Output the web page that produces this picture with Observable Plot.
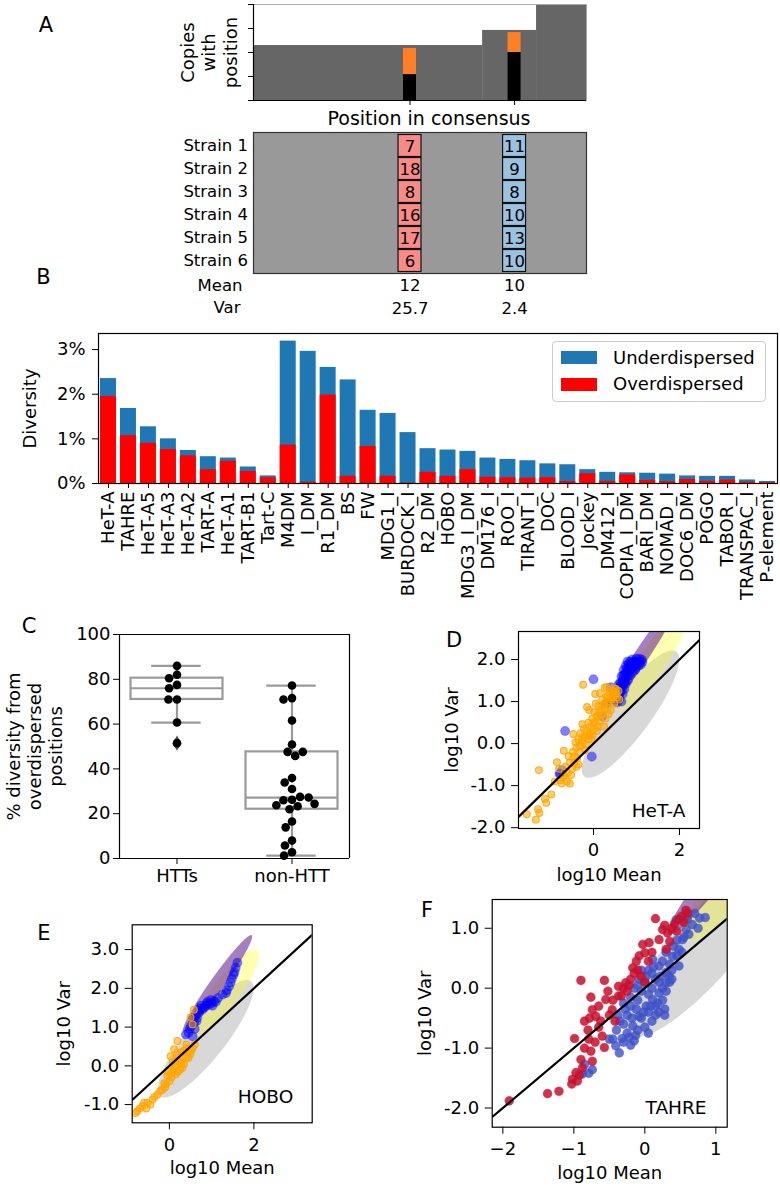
<!DOCTYPE html>
<html><head><meta charset="utf-8">
<script src="https://cdn.jsdelivr.net/npm/d3@7"></script>
<script src="https://cdn.jsdelivr.net/npm/@observablehq/plot@0.6"></script>
<style>
body{margin:0;background:#fff;}
#fig{position:relative;width:780px;height:1187px;font-family:"DejaVu Sans",sans-serif;color:#000;overflow:hidden;background:#fff;}
.lab{position:absolute;transform:translate(-50%,-50%);font-size:21px;line-height:1;}
.leg{position:absolute;left:552px;top:341px;width:212px;height:59px;border:1px solid #ccc;border-radius:4px;background:rgba(255,255,255,0.85);font-size:18px;}
.leg .sw{position:absolute;left:8px;width:36px;height:13px;}
.leg .tx{position:absolute;left:60px;line-height:1;}
</style></head><body><div id="fig"></div>
<script>
// ---------- Panel A ----------
const coverageStart = [0, 68.8, 85];
const coverageEnd = [68.8, 85, 100];
const coverageLevel = [2.29, 2.92, 4];
const sitePosition = [47.0, 78.4];
const siteBlack = [1.08, 2.0];
const siteTotal = [2.17, 2.83];
const strains = ["Strain 1","Strain 2","Strain 3","Strain 4","Strain 5","Strain 6"];
const site1Counts = [7,18,8,16,17,6];
const site2Counts = [11,9,8,10,13,10];
const siteMeanLabel = ["12","10"];
const siteVarLabel = ["25.7","2.4"];

// ---------- Panel B ----------
const teNames = ["HeT-A","TAHRE","HeT-A5","HeT-A3","HeT-A2","TART-A","HeT-A1","TART-B1","Tart-C","M4DM","I_DM","R1_DM","BS","FW","MDG1_I","BURDOCK_I","R2_DM","HOBO","MDG3_I_DM","DM176_I","ROO_I","TIRANT_I","DOC","BLOOD_I","Jockey","DM412_I","COPIA_I_DM","BARI_DM","NOMAD_I","DOC6_DM","POGO","TABOR_I","TRANSPAC_I","P-element"];
const totalDiversity = [2.35,1.68,1.27,1.00,0.74,0.60,0.57,0.37,0.17,3.19,2.96,2.60,2.32,1.64,1.57,1.14,0.78,0.75,0.72,0.57,0.54,0.51,0.44,0.42,0.31,0.25,0.24,0.23,0.21,0.17,0.16,0.16,0.08,0.045];
const overDiversity = [1.95,1.07,0.90,0.76,0.62,0.31,0.50,0.27,0.13,0.86,0.03,1.98,0.16,0.83,0.16,0.01,0.25,0.16,0.31,0.14,0.13,0.12,0.13,0.045,0.22,0.05,0.19,0.07,0.04,0.09,0.05,0.075,0.03,0.02];
const legendLabels = ["Underdispersed","Overdispersed"];

// ---------- Panel C ----------
const cGroups = ["HTTs","non-HTT"];
const httPercent = [86, 82, 80.5, 77.5, 76, 71, 71, 60.7, 51.5];
const nonHttPercent = [77.2, 71.6, 71, 61.6, 50.9, 47.6, 45.8, 47.6, 35.9, 33.9, 31, 26.2, 26, 27.5, 27.2, 23.3, 22, 23.8, 24.4, 16.5, 13.9, 8, 5.8, 2.8, 1.3];

// ---------- Ellipses (model regions, shared by D/E/F) ----------
const ellipseFill = ["#a9a9a9","#ffff00","#4b0082"];
const ellipseCx = [0.86, 1.33, 1.14];
const ellipseCy = [0.70, 1.90, 2.13];
const ellipseA = [1.83, 1.33, 1.48];
const ellipseB = [0.48, 0.33, 0.17];
const ellipseAngle = [54.5, 55.7, 57];

// ---------- Panel D (HeT-A) ----------
const hetaBlue = [[0.00,1.53],[-0.66,0.30],[-0.04,-0.31],[-0.77,-0.71],[-0.73,-0.63],[-0.79,-0.72],[0.40,1.34],[0.30,0.95],[0.20,0.65],
 [0.55,0.98],[0.60,1.05],[0.65,1.00],[0.58,1.15],[0.62,1.20],[0.68,1.18],[0.55,1.25],[0.60,1.32],[0.66,1.38],[0.72,1.30],[0.75,1.42],[0.62,1.45],[0.68,1.52],[0.74,1.55],[0.80,1.50],[0.65,1.60],[0.72,1.65],[0.78,1.68],[0.85,1.62],[0.90,1.70],[0.70,1.75],[0.78,1.80],[0.85,1.78],[0.92,1.82],[0.98,1.80],[0.82,1.90],[0.88,1.92],[0.95,1.95],[1.02,1.92],[1.08,1.95],[1.12,2.00],[0.90,2.00],[1.00,2.02],[0.75,1.85],[0.82,1.72],[0.95,1.88],[1.05,1.85],[0.70,1.45],[0.58,1.40],[0.52,1.10],
 [0.50,1.05],[0.53,1.18],[0.57,1.28],[0.63,1.35],[0.69,1.62],[0.76,1.72],[0.83,1.83],[0.93,1.90],[1.00,1.95],[1.06,2.02],[0.88,1.85],[0.80,1.62],[0.73,1.48],[0.66,1.28],[0.97,1.75],[1.10,1.88],[0.85,1.95],[0.60,1.18],[0.79,1.95],[1.14,1.94]];
const hetaOrange = [[-1.55,-1.68],[-1.34,-1.81],[-1.29,-1.56],[-1.26,-1.65],[-1.13,-1.31],[-1.10,-1.41],[-0.98,-1.21],[-1.27,-0.63],[-0.85,-0.44],[-0.77,-0.87],[-0.70,-0.80],[-0.74,-0.95],[-0.69,-0.17],[-0.47,0.23],[-0.42,0.03],[-0.26,0.46],[-0.15,0.87],[-0.24,1.40],[0.26,1.33],[0.47,1.32],[0.04,1.18],[-0.65,-0.55],[-0.60,-0.70],[-0.55,-0.45],[-0.58,-0.30],[-0.50,-0.60],[-0.48,-0.20],[-0.45,-0.45],[-0.40,-0.10],[-0.38,-0.35],[-0.35,0.10],[-0.32,-0.20],[-0.30,0.25],[-0.28,-0.05],[-0.25,0.05],[-0.22,0.35],[-0.20,0.15],[-0.18,-0.02],[-0.15,0.30],[-0.12,0.50],[-0.10,0.20],[-0.08,0.40],[-0.05,0.10],[-0.03,0.60],[0.00,0.35],[0.02,0.75],[0.05,0.50],[0.08,0.30],[0.10,0.65],[0.12,0.90],[0.15,0.55],[0.18,0.80],[0.20,1.05],[0.22,0.70],[0.25,0.95],[0.28,0.60],[0.30,1.10],[0.32,0.85],[0.35,1.00],[0.38,1.20],[0.40,0.80],[0.42,1.05],[0.45,1.25],[0.48,0.95],[0.50,1.15],[0.52,1.30],[0.55,1.10],[0.35,0.70],[0.10,0.40],[-0.02,0.20],[-0.35,-0.50],[-0.62,-0.90],[-0.90,-0.90],[-0.55,-0.95],[-0.80,-0.60],[0.15,1.20],[-0.10,0.80],[0.30,1.35],[0.25,0.40],[0.05,0.95],
 [-0.45,-0.30],[-0.40,-0.55],[-0.33,-0.05],[-0.27,0.15],[-0.20,-0.15],[-0.13,0.10],[-0.07,0.25],[0.00,0.50],[0.07,0.65],[0.13,0.75],[0.20,0.90],[0.27,0.80],[0.33,1.15],[0.40,1.10],[0.46,1.10],[0.53,1.20],[0.58,1.25],[0.60,1.05],[-0.52,-0.75],[-0.68,-0.75]];

// ---------- Panel E (HOBO) ----------
const hoboBlue = [[1.61,2.66],[1.57,2.53],[1.54,2.42],[1.52,2.35],[1.48,2.25],[1.45,2.15],[1.41,2.05],[1.36,1.95],[1.34,1.88],[1.26,1.84],[1.15,1.75],[1.06,1.67],[1.00,1.62],[0.94,1.58],[0.90,1.65],[0.86,1.54],[0.82,1.50],[0.78,1.45],[0.75,1.55],[0.70,1.37],[0.72,1.48],[0.66,1.24],[0.62,1.30],[0.58,1.11],[0.55,1.20],[0.51,1.02],[0.48,0.95],[0.39,0.81],[0.45,0.85],[0.55,0.76],[0.60,0.95],[1.02,1.55],[0.98,1.70],[1.10,1.65],[0.88,1.60],[0.68,1.42],[0.64,1.15]];
const hoboOrange = [[0.58,1.45],[0.55,1.07],[0.50,1.25],[0.19,0.64],[0.11,0.43],[0.03,0.25],[0.15,0.12],[0.55,0.46],[0.39,0.20],[0.45,0.35],[0.31,-0.05],[0.25,0.10],[0.35,0.40],[0.20,0.30],[0.15,-0.22],[0.10,-0.10],[0.05,-0.30],[0.00,-0.40],[-0.08,-0.48],[-0.05,-0.25],[0.20,-0.15],[0.28,0.05],[0.12,0.00],[-0.16,-0.61],[-0.10,-0.55],[-0.28,-0.74],[-0.22,-0.65],[-0.40,-0.87],[-0.35,-0.80],[-0.52,-0.95],[-0.45,-1.00],[-0.64,-1.04],[-0.60,-0.95],[-0.76,-1.17],[-0.70,-1.10],[-0.80,-1.22],[-0.55,-1.10],[0.08,0.10],[0.40,0.55],[0.30,0.25],[-0.02,-0.15],[0.18,0.20],[0.45,0.20],[0.50,0.30],[0.35,0.05],[0.25,-0.10],[0.05,-0.20],[-0.12,-0.45],[0.60,0.55],[0.52,0.40],[0.42,0.45],[0.28,0.35]];

// ---------- Panel F (TAHRE) ----------
const tahreBlue = [[-0.85,-1.27],[-0.88,-1.43],[-0.79,-1.42],[-0.74,-1.36],[-0.36,-1.08],[-0.41,-0.96],[-0.50,-0.85],[-0.32,-0.84],[-0.22,-0.82],[-0.13,-0.79],[-0.17,-0.63],[-0.08,-0.47],[0.02,-0.30],[0.11,-0.19],[0.20,-0.08],[0.30,0.09],[0.34,0.20],[0.30,0.26],[0.20,0.37],[0.11,0.48],[0.39,0.53],[0.48,0.65],[0.53,0.81],[0.58,0.98],[0.67,1.06],[0.77,1.17],[0.70,1.25],[0.44,1.14],[0.48,0.37],[-0.30,-0.60],[-0.25,-0.45],[-0.20,-0.30],[-0.10,-0.20],[-0.05,-0.05],[0.00,0.10],[0.05,-0.10],[0.10,0.00],[0.15,0.15],[0.25,-0.20],[0.20,-0.40],[0.10,-0.55],[0.00,-0.65],[-0.10,-0.70],[-0.40,-0.70],[-0.30,-0.90],[-0.20,-0.95],[-0.15,0.00],[-0.05,0.30],[0.05,0.30],[0.25,0.45],[0.35,0.40],[0.40,0.70],[0.30,0.60],[0.15,-0.30],[-0.25,-0.75],[0.60,1.15],[0.85,1.18],[0.75,1.00],[0.55,0.85],[0.45,0.80],[0.05,-0.40],[-0.05,-0.50],[0.15,-0.45],[0.25,0.00],[0.20,0.10],[-0.10,0.05],[0.10,0.25],[0.28,-0.35],
 [-0.35,-0.55],[-0.28,-0.35],[-0.18,-0.50],[-0.12,-0.35],[-0.02,-0.40],[0.08,-0.30],[0.18,-0.25],[0.30,-0.05],[0.35,0.10],[0.22,0.20],[0.12,0.35],[0.02,0.20],[-0.08,0.15],[-0.20,-0.15],[-0.30,-0.25],[-0.38,-0.45],[0.38,0.30],[0.45,0.55],[0.52,0.60],[0.62,0.90],[0.28,-0.45],[-0.45,-0.85],[-0.15,-0.88],[0.05,-0.75],[0.38,0.15]];
const tahreRed = [[-1.91,-1.88],[-1.37,-1.76],[-1.21,-1.72],[-1.03,-1.60],[-1.02,-1.52],[-0.95,-1.55],[-0.97,-1.41],[-0.92,-1.45],[-0.88,-1.33],[-0.90,-1.19],[-0.76,-1.05],[-0.74,-1.22],[-0.99,-0.84],[-0.79,-0.85],[-0.80,-0.70],[-0.85,-0.55],[-0.78,-0.50],[-0.90,0.13],[-0.57,0.13],[-0.76,-0.15],[-0.74,-0.36],[-0.69,-0.47],[-0.55,-0.19],[-0.46,-0.36],[-0.60,-0.80],[-0.57,-0.99],[-0.62,-0.55],[-0.65,-0.30],[-0.50,-0.45],[-0.42,-0.55],[-0.37,-0.13],[-0.37,0.03],[-0.27,0.09],[-0.33,-0.13],[-0.30,0.00],[-0.22,0.05],[-0.20,0.15],[-0.25,-0.05],[-0.17,0.34],[-0.12,0.45],[-0.08,0.54],[0.00,0.59],[0.06,0.76],[-0.03,0.73],[0.15,1.16],[0.20,0.81],[0.25,0.98],[0.28,1.05],[0.32,0.92],[0.38,1.00],[0.42,1.08],[0.48,1.15],[0.52,1.20],[0.58,1.30],[0.55,1.10],[0.35,0.78],[0.30,0.65],[0.10,0.60],[0.05,0.45],[-0.10,0.30],[-0.15,0.25],[-0.05,0.20],[0.00,0.10],[0.60,1.25],[0.45,0.95],[-0.45,-0.20],[-0.52,-0.05],[-0.65,-0.65],[-0.85,-1.00],[-0.70,-0.90]];

// ================= drawing =================
const fig = document.getElementById("fig");
function place(left, top, fs) {
  return `position:absolute;left:${left}px;top:${top}px;font-family:'DejaVu Sans',sans-serif;font-size:${fs||18}px;background:transparent;overflow:visible;max-width:none;color:#000;`;
}
const T = d => d;
const MID = {textAnchor:"middle", lineAnchor:"middle"};

// ---- A: coverage
const coverage = coverageStart.map((s,i)=>({start:s,end:coverageEnd[i],level:coverageLevel[i]}));
const sites = sitePosition.map((p,i)=>({pos:p,black:siteBlack[i],total:siteTotal[i]}));
fig.appendChild(Plot.plot({
  width: 600, height: 115, marginLeft: 253, marginRight: 14, marginTop: 4, marginBottom: 15,
  style: place(0,0),
  x: {domain:[0,100], axis:null},
  y: {domain:[0,4], axis:null},
  marks: [
    Plot.rectY(coverage, {x1:"start", x2:"end", y1:0, y2:"level", fill:"#666"}),
    Plot.rectY(sites, {x1:d=>d.pos-1.95, x2:d=>d.pos+1.95, y1:0, y2:"black", fill:"#000"}),
    Plot.rectY(sites, {x1:d=>d.pos-1.95, x2:d=>d.pos+1.95, y1:"black", y2:"total", fill:"#ff7f27"}),
    Plot.frame({stroke:"#aaa"}),
    Plot.ruleX([0], {stroke:"#000", strokeWidth:1.2}),
    Plot.ruleY([0], {stroke:"#000", strokeWidth:1.2}),
    Plot.axisY({ticks:[0,1,2,3,4], tickFormat:()=>"", tickSize:5, label:null}),
    Plot.axisX({ticks:sitePosition, tickFormat:()=>"", tickSize:5, label:null}),
    Plot.text(["Copies\nwith\nposition"], {text:T, frameAnchor:"left", dx:-45, rotate:-90, lineHeight:1.2, fontSize:18, ...MID})
  ]
}));

// ---- A: strain grid
const cells = [];
strains.forEach((s,i)=>{
  cells.push({site:0, pos:sitePosition[0], strain:s, n:site1Counts[i]});
  cells.push({site:1, pos:sitePosition[1], strain:s, n:site2Counts[i]});
});
const siteSummary = sitePosition.map((p,i)=>({pos:p, mean:siteMeanLabel[i], v:siteVarLabel[i]}));
fig.appendChild(Plot.plot({
  width: 600, height: 220, marginLeft: 253, marginRight: 14, marginTop: 22, marginBottom: 57,
  style: place(0,110,16.5),
  x: {domain:[0,100], axis:null},
  y: {domain:strains, padding:0, tickSize:0, tickPadding:5.5, label:null},
  marks: [
    Plot.frame({fill:"#999"}),
    Plot.barX(cells.filter(d=>d.site===0), {x1:d=>d.pos-3.6, x2:d=>d.pos+3.6, y:"strain", fill:"#f88b86", stroke:"#111", strokeWidth:1.2, inset:0.5}),
    Plot.barX(cells.filter(d=>d.site===1), {x1:d=>d.pos-3.6, x2:d=>d.pos+3.6, y:"strain", fill:"#9cc2e2", stroke:"#111", strokeWidth:1.2, inset:0.5}),
    Plot.text(cells, {x:"pos", y:"strain", text:"n", fontSize:16.5, dy:1}),
    Plot.frame({stroke:"#333", strokeWidth:1.2}),
    Plot.text(["Position in consensus"], {text:T, frameAnchor:"top", dx:9, dy:-14, fontSize:19, ...MID}),
    Plot.text(siteSummary, {x:"pos", text:"mean", frameAnchor:"bottom", dy:12, fontSize:16.5, ...MID}),
    Plot.text(siteSummary, {x:"pos", text:"v", frameAnchor:"bottom", dy:35, fontSize:16.5, ...MID}),
    Plot.text(["Mean"], {text:T, frameAnchor:"bottom-left", dx:-11, dy:12, fontSize:16.5, textAnchor:"end", lineAnchor:"middle"}),
    Plot.text(["Var"], {text:T, frameAnchor:"bottom-left", dx:-13, dy:34, fontSize:16.5, textAnchor:"end", lineAnchor:"middle"})
  ]
}));

// ---- B
const bRows = teNames.map((n,i)=>({name:n,total:totalDiversity[i],over:overDiversity[i]}));
fig.appendChild(Plot.plot({
  width: 780, height: 290, marginLeft: 98, marginRight: 3, marginTop: 13, marginBottom: 127,
  style: place(0,320),
  x: {domain:teNames, paddingInner:0.2, paddingOuter:0.1, tickRotate:-90, tickSize:5, tickPadding:3, label:null},
  y: {domain:[0,3.36], ticks:[0,1,2,3], tickFormat:d=>d+"%", tickSize:6, tickPadding:7, label:null},
  marks: [
    Plot.barY(bRows, {x:"name", y:"total", fill:"#1f77b4"}),
    Plot.barY(bRows, {x:"name", y:"over", fill:"#ff0000"}),
    Plot.frame({stroke:"#000", strokeWidth:1.2}),
    Plot.text(["Diversity"], {text:T, frameAnchor:"left", dx:-68, rotate:-90, fontSize:18, ...MID})
  ]
}));

// ---- C
const cPoints = [...httPercent.map(v=>({g:"HTTs",v})), ...nonHttPercent.map(v=>({g:"non-HTT",v}))];
const cStats = cGroups.map(g=>{
  const vals = cPoints.filter(d=>d.g===g).map(d=>d.v).sort(d3.ascending);
  const q1 = d3.quantile(vals,0.25), med = d3.quantile(vals,0.5), q3 = d3.quantile(vals,0.75), iqr = q3-q1;
  const lo = d3.min(vals.filter(v=>v>=q1-1.5*iqr)), hi = d3.max(vals.filter(v=>v<=q3+1.5*iqr));
  return {g,q1,med,q3,lo,hi,out:vals.filter(v=>v<lo||v>hi)};
});
const cOut = cStats.flatMap(s=>s.out.map(v=>({g:s.g,v})));
const boxGray = "#9a9a9a";
fig.appendChild(Plot.plot({
  width: 380, height: 300, marginLeft: 119, marginRight: 31, marginTop: 34, marginBottom: 42,
  style: place(0,600),
  fx: {domain:cGroups, padding:0, axis:"bottom", tickSize:6, tickPadding:5, label:null},
  x: {domain:[0,1], axis:null},
  y: {domain:[0,100], ticks:[0,20,40,60,80,100], tickSize:6, tickPadding:3, label:null},
  marks: [
    Plot.ruleY([0,100], {stroke:"#000", strokeWidth:1.2}),
    Plot.ruleX([{g:"HTTs",x:0},{g:"non-HTT",x:1}], {fx:"g", x:"x", stroke:"#000", strokeWidth:1.2}),
    Plot.ruleX(cStats, {fx:"g", x:0.5, y1:"lo", y2:"q1", stroke:boxGray, strokeWidth:2.2}),
    Plot.ruleX(cStats, {fx:"g", x:0.5, y1:"q3", y2:"hi", stroke:boxGray, strokeWidth:2.2}),
    Plot.ruleY(cStats, {fx:"g", y:"lo", x1:0.28, x2:0.71, stroke:boxGray, strokeWidth:2.2}),
    Plot.ruleY(cStats, {fx:"g", y:"hi", x1:0.28, x2:0.71, stroke:boxGray, strokeWidth:2.2}),
    Plot.rect(cStats, {fx:"g", x1:0.1, x2:0.9, y1:"q1", y2:"q3", fill:"white", stroke:boxGray, strokeWidth:2.2}),
    Plot.ruleY(cStats, {fx:"g", y:"med", x1:0.1, x2:0.9, stroke:boxGray, strokeWidth:2.2}),
    Plot.dot(cOut, {fx:"g", x:0.5, y:"v", symbol:"diamond", r:4.6, fill:"#555"}),
    Plot.dot(cPoints, Plot.dodgeX({anchor:"middle", padding:0}, {fx:"g", y:"v", r:4.3, fill:"#000"})),
    Plot.text([{g:"HTTs", t:"% diversity from\noverdispersed\npositions"}], {fx:"g", text:"t", frameAnchor:"left", dx:-85, rotate:-90, lineHeight:1.17, fontSize:18, ...MID})
  ]
}));

// ---- D/E/F scatter panels
function ellipsePoints(i){
  const th = ellipseAngle[i]*Math.PI/180;
  return d3.range(0, 361, 3).map(a=>{
    const p = a*Math.PI/180, u = ellipseA[i]*Math.cos(p), v = ellipseB[i]*Math.sin(p);
    return {x: ellipseCx[i] + u*Math.cos(th) - v*Math.sin(th), y: ellipseCy[i] + u*Math.sin(th) + v*Math.cos(th)};
  });
}
const ellipseOpacity = [0.45, 0.3, 0.5];
function ellipseMarks(){
  return ellipseFill.map((c,i)=>Plot.line(ellipsePoints(i), {x:"x", y:"y", fill:c, fillOpacity:ellipseOpacity[i], stroke:"none", curve:"linear-closed", clip:true}));
}
function scatter(cfg){
  return Plot.plot({
    width: cfg.w, height: cfg.h, marginLeft: cfg.mL, marginRight: cfg.mR, marginTop: cfg.mT, marginBottom: cfg.mB,
    style: place(cfg.left, cfg.top),
    x: {domain:cfg.xd, ticks:cfg.xt, tickFormat:cfg.xf, tickSize:7, tickPadding:8, label:null},
    y: {domain:cfg.yd, ticks:cfg.yt, tickFormat:d=>d.toFixed(1), tickSize:7, tickPadding:6, label:null},
    marks: [
      ...ellipseMarks(),
      ...cfg.series.map(s=>Plot.dot(s.data, {x:d=>d[0], y:d=>d[1], r:s.r, fill:s.color, fillOpacity:s.fo, stroke:s.color, strokeOpacity:s.so, strokeWidth:1.1, clip:true})),
      Plot.link([0], {x1:cfg.xd[0], y1:cfg.xd[0], x2:cfg.xd[1], y2:cfg.xd[1], stroke:"#000", strokeWidth:2.2, clip:true}),
      Plot.frame({stroke:"#000", strokeWidth:1.2}),
      Plot.text([cfg.name], {text:T, frameAnchor:"bottom-right", textAnchor:"end", lineAnchor:"middle", dx:cfg.ndx, dy:cfg.ndy, fontSize:18.5}),
      Plot.text(["log10 Var"], {text:T, frameAnchor:"left", rotate:-90, dx:cfg.vdx, fontSize:18, ...MID}),
      Plot.text(["log10 Mean"], {text:T, frameAnchor:"bottom", dy:cfg.mdy, fontSize:18, ...MID})
    ]
  });
}
const plainTick = d=>String(d);
const minusTick = d=>d<0 ? "\u2212"+(-d) : String(d);

fig.appendChild(scatter({
  left:400, top:600, w:380, h:290, mL:118, mR:81, mT:31, mB:62,
  xd:[-1.744,2.465], yd:[-2.02,2.667], xt:[0,2], yt:[-2,-1,0,1,2], xf:plainTick,
  series:[{data:hetaBlue, color:"#0000ff", r:4.5, fo:0.5, so:0.3},{data:hetaOrange, color:"#ffa500", r:3.4, fo:0.55, so:0.85}],
  name:"HeT-A", ndx:-14, ndy:-17, vdx:-66, mdy:47
}));
fig.appendChild(scatter({
  left:0, top:880, w:380, h:307, mL:131.7, mR:68.3, mT:44.3, mB:64.7,
  xd:[-0.88,3.38], yd:[-1.47,3.64], xt:[0,2], yt:[-1,0,1,2,3], xf:plainTick,
  series:[{data:hoboBlue, color:"#0000ff", r:4.5, fo:0.5, so:0.3},{data:hoboOrange, color:"#ffa500", r:3.4, fo:0.55, so:0.85}],
  name:"HOBO", ndx:-19, ndy:-26, vdx:-67.7, mdy:45.7
}));
fig.appendChild(scatter({
  left:380, top:880, w:400, h:307, mL:111.7, mR:53.3, mT:19, mB:60.3,
  xd:[-2.15,1.16], yd:[-2.32,1.48], xt:[-2,-1,0,1], yt:[-2,-1,0,1], xf:minusTick,
  series:[{data:tahreBlue, color:"#3f51c8", r:4.3, fo:0.8, so:0.5},{data:tahreRed, color:"#c8102e", r:4.3, fo:0.85, so:0.5}],
  name:"TAHRE", ndx:-20.7, ndy:-18.7, vdx:-67.2, mdy:46.3
}));

// ---- panel letters & legend
[["A",46,24.5],["B",43.4,276.5],["C",29,625.5],["D",454,640],["E",44,933],["F",427,910]].forEach(([t,x,y])=>{
  const d = document.createElement("div"); d.className="lab"; d.textContent=t; d.style.left=x+"px"; d.style.top=y+"px"; fig.appendChild(d);
});
const leg = document.createElement("div"); leg.className="leg";
const legColors = ["#1f77b4","#ff0000"];
legendLabels.forEach((l,i)=>{
  const sw = document.createElement("div"); sw.className="sw"; sw.style.top=(9+i*27)+"px"; sw.style.background=legColors[i]; leg.appendChild(sw);
  const tx = document.createElement("div"); tx.className="tx"; tx.style.top=(7+i*26)+"px"; tx.textContent=l; leg.appendChild(tx);
});
fig.appendChild(leg);
</script></body></html>
